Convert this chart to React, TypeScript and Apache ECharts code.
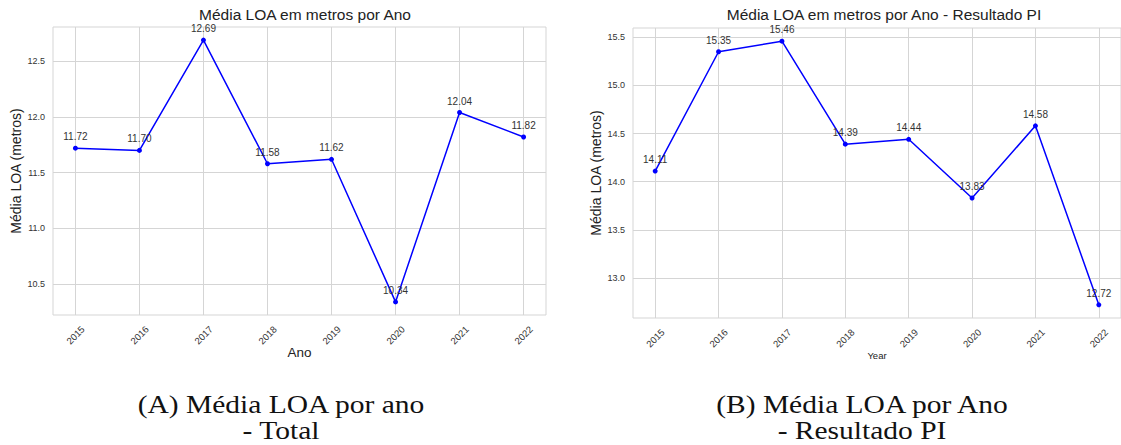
import React, { useEffect, useRef } from "react";
import * as echarts from "echarts";

const years = [2015, 2016, 2017, 2018, 2019, 2020, 2021, 2022];
const totalLOA = [11.72, 11.7, 12.69, 11.58, 11.62, 10.34, 12.04, 11.82];
const piLOA = [14.11, 15.35, 15.46, 14.39, 14.44, 13.83, 14.58, 12.72];
const totalTicks = [10.5, 11.0, 11.5, 12.0, 12.5];
const piTicks = [13.0, 13.5, 14.0, 14.5, 15.0, 15.5];

const titleA = "Média LOA em metros por Ano";
const titleB = "Média LOA em metros por Ano - Resultado PI";
const yName = "Média LOA (metros)";
const xNameA = "Ano";
const xNameB = "Year";
const captionA = ["(A) Média LOA por ano", "- Total"];
const captionB = ["(B) Média LOA por Ano", "- Resultado PI"];

const SANS = "'Liberation Sans', Arial, sans-serif";
const SERIF = "'Liberation Serif', 'Times New Roman', serif";
const GRID_COLOR = "#d5d5d5";
const TEXT_COLOR = "#333333";

function padRange(vals: number[], frac = 0.05): [number, number] {
  const lo = Math.min(...vals);
  const hi = Math.max(...vals);
  const m = (hi - lo) * frac;
  return [lo - m, hi + m];
}

export default function App() {
  const ref = useRef<HTMLDivElement>(null);

  useEffect(() => {
    if (!ref.current) return;
    const chart = echarts.init(ref.current, undefined, { renderer: "svg" });
    const xr = padRange(years);
    const yA = padRange(totalLOA);
    const yB = padRange(piLOA);

    const xAxisBase = (gridIndex: number, name: string, nameSize: number, nameGap: number) => ({
      type: "value",
      gridIndex,
      min: xr[0],
      max: xr[1],
      name,
      nameLocation: "middle",
      nameGap,
      nameMoveOverlap: false,
      nameTextStyle: { fontFamily: SANS, fontSize: nameSize, color: "#222" },
      axisLine: { show: false },
      axisTick: { show: false, customValues: years },
      axisLabel: {
        customValues: years,
        rotate: 45,
        align: "center",
        verticalAlign: "middle",
        margin: 20,
        fontFamily: SANS,
        fontSize: 9.5,
        color: TEXT_COLOR,
        formatter: (v: number) => String(Math.round(v)),
      },
      splitLine: { show: true, lineStyle: { color: GRID_COLOR, width: 1 } },
    });

    const yAxisBase = (gridIndex: number, r: [number, number], ticks: number[]) => ({
      type: "value",
      gridIndex,
      min: r[0],
      max: r[1],
      name: yName,
      nameLocation: "middle",
      nameGap: 30,
      nameMoveOverlap: false,
      nameTextStyle: { fontFamily: SANS, fontSize: 14, color: "#222" },
      axisLine: { show: false },
      axisTick: { show: false, customValues: ticks },
      axisLabel: {
        customValues: ticks,
        margin: 8,
        fontFamily: SANS,
        fontSize: 9,
        color: TEXT_COLOR,
        formatter: (v: number) => v.toFixed(1),
      },
      splitLine: { show: true, lineStyle: { color: GRID_COLOR, width: 1 } },
    });

    const seriesBase = (idx: number, vals: number[]) => ({
      type: "line",
      xAxisIndex: idx,
      yAxisIndex: idx,
      data: years.map((y, i) => [y, vals[i]]),
      symbol: "circle",
      symbolSize: 5,
      lineStyle: { color: "#0000ff", width: 1.5 },
      itemStyle: { color: "#0000ff" },
      label: {
        show: true,
        position: "top",
        distance: 4,
        fontFamily: SANS,
        fontSize: 10,
        color: TEXT_COLOR,
        formatter: (p: any) => p.value[1].toFixed(2),
      },
      emphasis: { disabled: true },
    });

    const captionLine = (text: string, cx: number, cy: number) => ({
      type: "text",
      x: cx,
      y: cy,
      scaleX: 1.18,
      style: {
        text,
        fontFamily: SERIF,
        fontSize: 25,
        fill: "#111",
        textAlign: "center",
        textVerticalAlign: "middle",
      },
    });

    chart.setOption({
      animation: false,
      backgroundColor: "#ffffff",
      title: [
        {
          text: titleA,
          left: 300,
          top: 1,
          textAlign: "center",
          textStyle: { fontFamily: SANS, fontSize: 15.5, fontWeight: "normal", color: "#222" },
        },
        {
          text: titleB,
          left: 879,
          top: 1,
          textAlign: "center",
          textStyle: { fontFamily: SANS, fontSize: 15.5, fontWeight: "normal", color: "#222" },
        },
      ],
      grid: [
        { left: 53, top: 27, width: 493, height: 288, show: true, borderColor: GRID_COLOR, borderWidth: 1, backgroundColor: "transparent" },
        { left: 633, top: 28, width: 493, height: 290, show: true, borderColor: GRID_COLOR, borderWidth: 1, backgroundColor: "transparent" },
      ],
      xAxis: [xAxisBase(0, xNameA, 13.5, 30), xAxisBase(1, xNameB, 9.5, 32)],
      yAxis: [yAxisBase(0, yA, totalTicks), yAxisBase(1, yB, piTicks)],
      series: [seriesBase(0, totalLOA), seriesBase(1, piLOA)],
      graphic: [
        captionLine(captionA[0], 281, 405),
        captionLine(captionA[1], 281, 431),
        captionLine(captionB[0], 862, 405),
        captionLine(captionB[1], 862, 431),
      ],
    });

    return () => chart.dispose();
  }, []);

  return (
    <div
      ref={ref}
      style={{ position: "absolute", left: 0, top: 0, width: 1121, height: 445, background: "#fff" }}
    />
  );
}
